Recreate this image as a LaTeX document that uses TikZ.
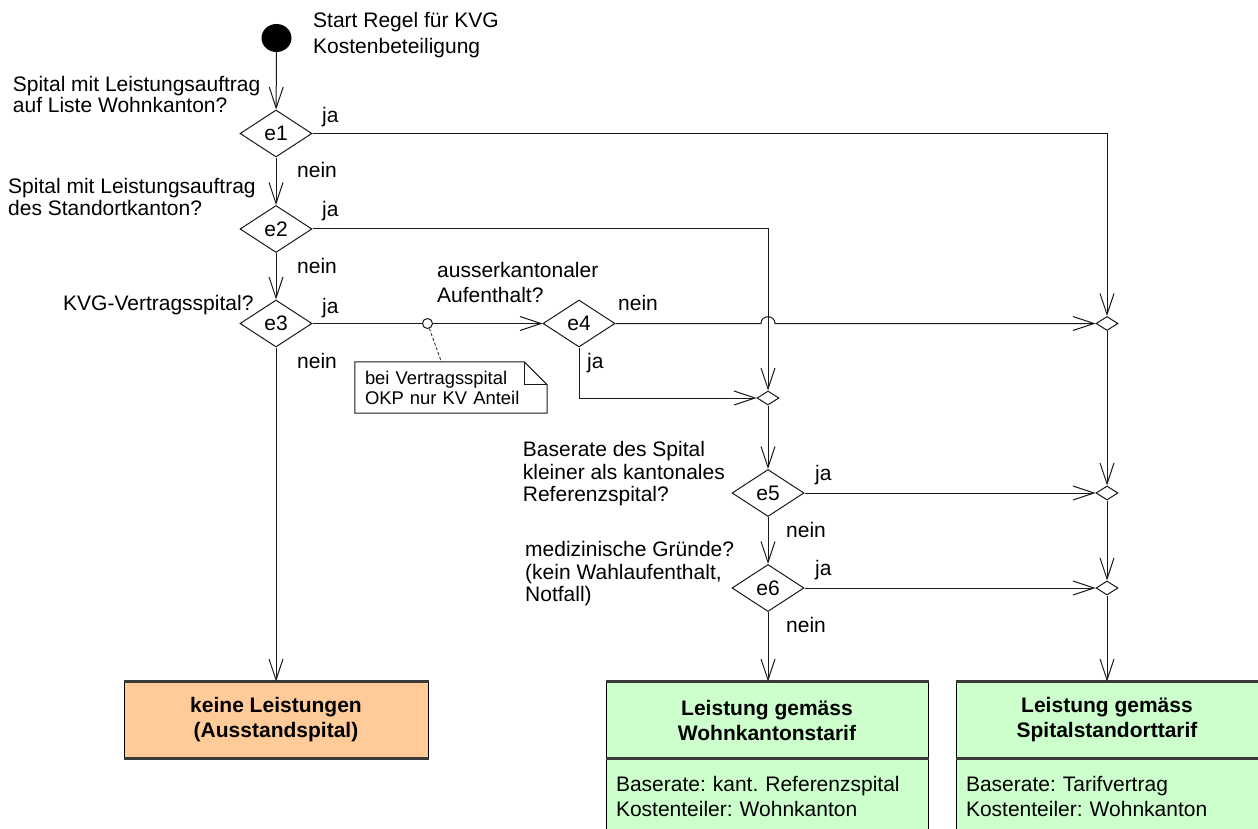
\documentclass[tikz,border=0pt]{standalone}
\usepackage{fontspec}
\setmainfont{Liberation Sans}
\usetikzlibrary{arrows.meta,shapes.geometric}
\definecolor{peach}{HTML}{FFCC99}
\definecolor{mint}{HTML}{CCFFCC}
\definecolor{edgegray}{HTML}{3A3A3A}
\frenchspacing
\tikzset{
  txt/.style={font=\fontsize{21}{23}\selectfont},
  lbl/.style={txt, anchor=base west, inner sep=0pt, align=left},
  flow/.style={draw=black!90, line width=1pt},
  arr/.style={flow, -{Straight Barb[length=21pt, width=14pt]}},
  decision/.style={diamond, draw=black!90, line width=1pt, minimum width=72pt,
    minimum height=47pt, inner sep=0pt, txt},
  merge/.style={diamond, draw=black!90, line width=1pt, minimum width=22pt,
    minimum height=14pt, inner sep=0pt},
  startdot/.style={ellipse, fill=black, minimum width=30pt, minimum height=28pt, inner sep=0pt},
  pinmark/.style={circle, draw=black!90, line width=1pt, minimum size=10pt, inner sep=0pt},
  notebox/.style={font=\fontsize{18.4}{20}\selectfont, text width=172pt, inner xsep=10pt,
    inner ysep=0pt, minimum height=51pt, align=left},
  box/.style={draw=black, line width=1pt, inner sep=0pt},
  title/.style={box, minimum height=76pt, font=\fontsize{21}{25}\selectfont\bfseries, align=center},
  body/.style={box, fill=mint, minimum height=75pt, anchor=north, inner xsep=10pt,
    font=\fontsize{21}{25}\selectfont, align=left},
  rule/.style={draw=edgegray, line width=3pt},
}
\begin{document}
\begin{tikzpicture}[x=1pt,y=-1pt]
\useasboundingbox (0,0) rectangle (1258,829);
\clip (0,0) rectangle (1258,829);

% start and decisions
\node[startdot] (start) at (276.5,38) {};
\node[decision] (e1) at (276,133.5) {e1};
\node[decision] (e2) at (276,229) {e2};
\node[decision] (e3) at (276,323.5) {e3};
\node[decision] (e4) at (579,323.5) {e4};
\node[decision] (e5) at (768,493) {e5};
\node[decision] (e6) at (768,588) {e6};

% merge points
\node[merge] (m1) at (1107,323.5) {};
\node[merge] (m2) at (768,398) {};
\node[merge] (m3) at (1107,493) {};
\node[merge] (m4) at (1107,588) {};

% result boxes
\node[title, fill=peach, minimum width=304pt] (keine) at (276,720) {keine Leistungen\\(Ausstandspital)};
\node[title, fill=mint, minimum width=322pt] (wohn) at (767,720) {Leistung gemäss\\Wohnkantonstarif};
\node[body, minimum width=322pt, text width=302pt] (wohnbody) at (wohn.south)
  {Baserate: kant. Referenzspital\\Kostenteiler: Wohnkanton};
\node[title, fill=mint, minimum width=302pt] (spital) at (1107,720) {Leistung gemäss\\Spitalstandorttarif};
\node[body, minimum width=302pt, text width=282pt] (spitalbody) at (spital.south)
  {Baserate: Tarifvertrag\\Kostenteiler: Wohnkanton};
\draw[rule] (keine.north west) -- (keine.north east);
\draw[rule] (keine.south west) -- (keine.south east);
\draw[rule] (wohn.north west) -- (wohn.north east);
\draw[rule] (wohn.south west) -- (wohn.south east);
\draw[rule] (spital.north west) -- (spital.north east);
\draw[rule] (spital.south west) -- (spital.south east);

% note attached to the e3 -> e4 flow
\node[pinmark] (pin) at (427.5,323.5) {};
\node[notebox] (note) at (451,387.5) {bei Vertragsspital\\OKP nur KV Anteil};
\draw[flow] (note.north west) -- ([xshift=-23pt]note.north east)
  -- ([yshift=-23pt]note.north east) -- (note.south east) -- (note.south west) -- cycle;
\draw[flow] ([xshift=-23pt]note.north east) |- ([yshift=-23pt]note.north east);
\coordinate (notetip) at (441.5,362);
\draw[flow, line width=0.8pt, dash pattern=on 3pt off 2pt] (pin) -- (notetip);

% connectors
\draw[arr] (start) -- (e1);
\draw[arr] (e1) -- (e2);
\draw[arr] (e2) -- (e3);
\draw[arr] (e3.south) -- (keine.north);
\draw[arr] (e1.east) -| (m1.north);
\draw[arr] (e2.east) -| (m2.north);
\draw[flow] (e3.east) -- (pin);
\draw[arr] (pin) -- (e4.west);
\coordinate (jl) at (761,323.5);
\coordinate (jr) at (775,323.5);
\draw[arr] (e4.east) -- (jl) .. controls +(0,-9) and +(0,-9) .. (jr) -- (m1.west);
\draw[arr] (e4.south) |- (m2.west);
\draw[arr] (m2) -- (e5);
\draw[arr] (m1) -- (m3);
\draw[arr] (e5.east) -- (m3.west);
\draw[arr] (e5) -- (e6);
\draw[arr] (e6.east) -- (m4.west);
\draw[arr] (m3) -- (m4);
\draw[arr] (e6.south) -- (e6.south |- wohn.north);
\draw[arr] (m4.south) -- (m4.south |- spital.north);

% questions and branch labels (anchored at the baseline of their last line)
\node[lbl, font=\fontsize{21}{26}\selectfont] (tstart) at (313,53.3) {Start Regel für KVG\\Kostenbeteiligung};
\node[lbl, font=\fontsize{21}{21.3}\selectfont] (q1) at (12.7,113) {Spital mit Leistungsauftrag\\auf Liste Wohnkanton?};
\node[lbl, font=\fontsize{21}{22}\selectfont] (q2) at (8,215) {Spital mit Leistungsauftrag\\des Standortkanton?};
\node[lbl] (q3) at (63,310) {KVG-Vertragsspital?};
\node[lbl, font=\fontsize{21}{25}\selectfont] (q4) at (437,302) {ausserkantonaler\\Aufenthalt?};
\node[lbl, font=\fontsize{21}{22.5}\selectfont] (q5) at (522.7,501.7) {Baserate des Spital\\kleiner als kantonales\\Referenzspital?};
\node[lbl, font=\fontsize{21}{22.5}\selectfont] (q6) at (525,601.7) {medizinische Gründe?\\(kein Wahlaufenthalt,\\Notfall)};

\node[lbl] (y1) at (322,123) {ja};
\node[lbl] (n1) at (297,178) {nein};
\node[lbl] (y2) at (322,217) {ja};
\node[lbl] (n2) at (297,273) {nein};
\node[lbl] (y3) at (322,313) {ja};
\node[lbl] (n3) at (297,368) {nein};
\node[lbl] (n4) at (618,310) {nein};
\node[lbl] (y4) at (587,368) {ja};
\node[lbl] (y5) at (815,480) {ja};
\node[lbl] (n5) at (786,537) {nein};
\node[lbl] (y6) at (815,575) {ja};
\node[lbl] (n6) at (786,632) {nein};
\end{tikzpicture}
\end{document}
